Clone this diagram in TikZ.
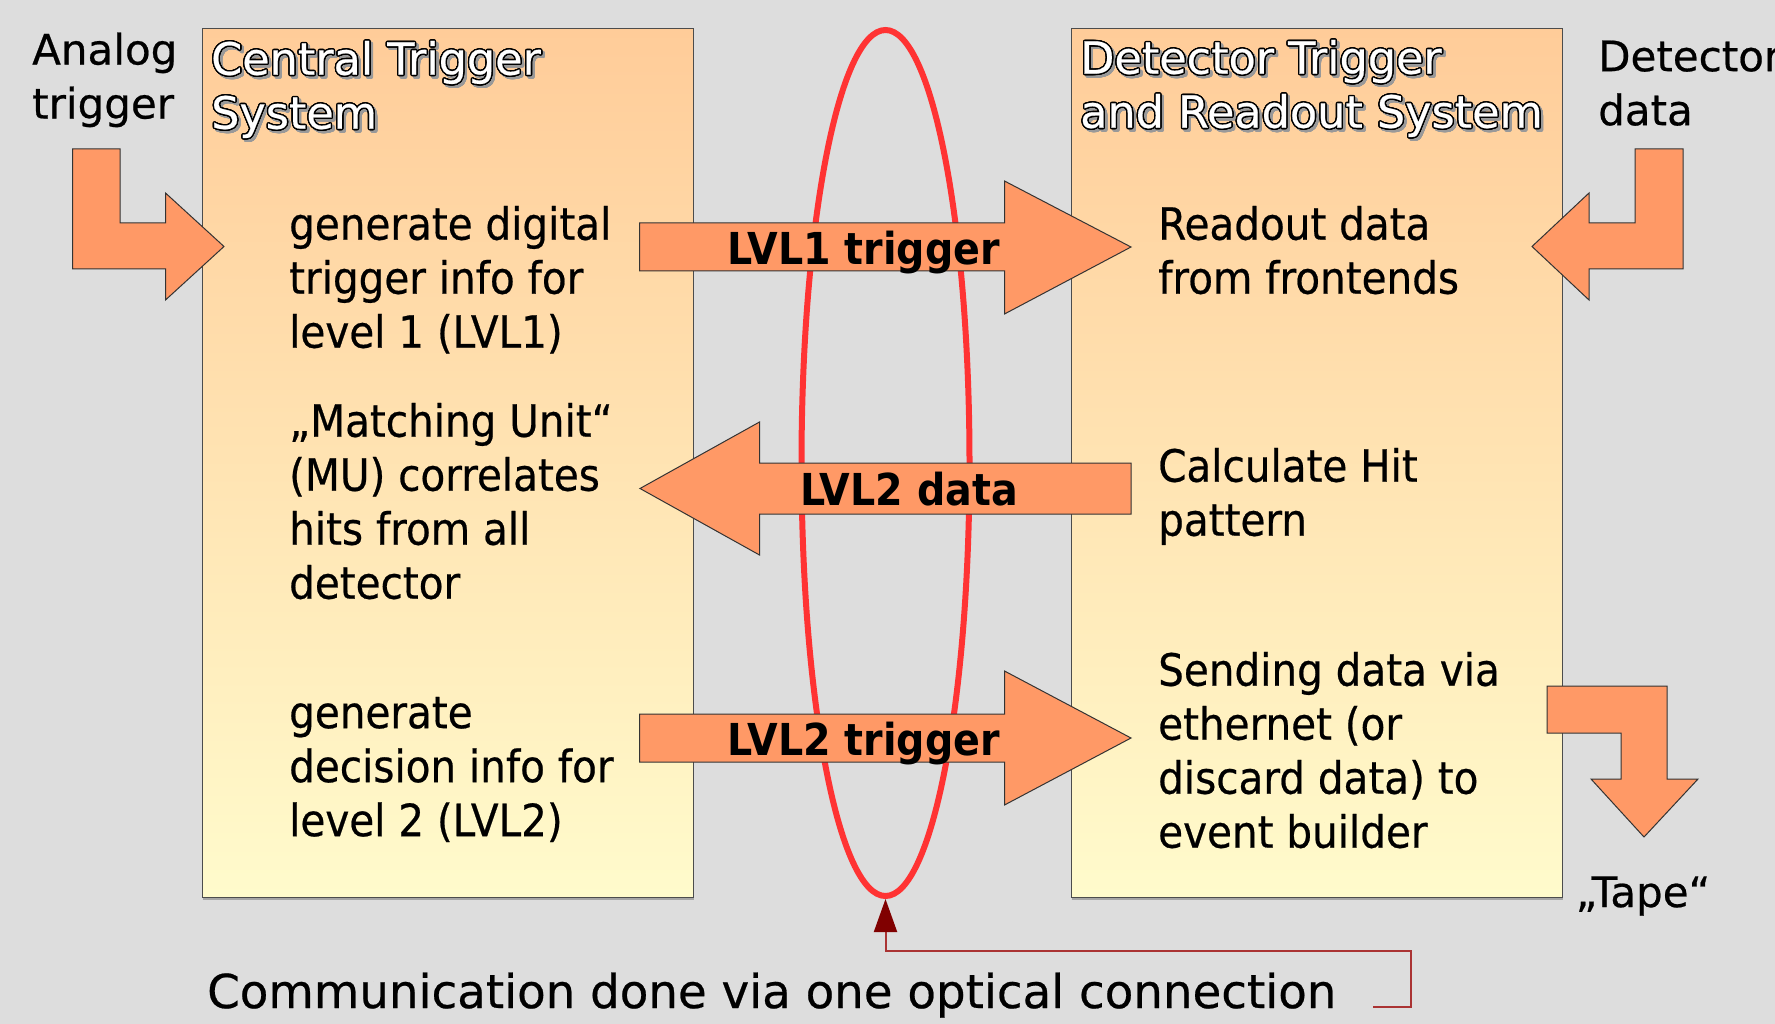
\documentclass[tikz,border=0pt]{standalone}
\usepackage{fontspec}
\setmainfont{DejaVu Sans}[FakeBold=0.5]
\newfontfamily\narrowfont{DejaVu Sans}[FakeStretch=0.91,FakeBold=0.5]
\newfontfamily\labelfont{DejaVu Sans Bold}[FakeStretch=0.9]
\usepackage{contour}
\contourlength{1.4pt}
\usetikzlibrary{arrows.meta}
\usetikzlibrary{shapes.geometric}
\usetikzlibrary{shadows}

\definecolor{bggray}{RGB}{221,221,221}
\definecolor{boxtop}{RGB}{255,204,153}
\definecolor{boxbottom}{RGB}{255,251,204}
\definecolor{arroworange}{RGB}{255,153,102}
\definecolor{linkred}{RGB}{255,51,51}
\definecolor{connred}{RGB}{170,51,51}
\definecolor{tipred}{RGB}{128,0,0}

\begin{document}
\begin{tikzpicture}[x=1pt,y=-1pt,
  sysbox/.style={draw=black!70, line width=1.2pt, top color=boxtop, bottom color=boxbottom,
    minimum width=491pt, minimum height=869pt, anchor=north west, inner sep=0pt,
    drop shadow={shadow xshift=1pt, shadow yshift=-2pt, opacity=0.6}},
  blockarrow/.style={fill=arroworange, draw=black!80, line width=1pt},
  bodytext/.style={anchor=north west, align=left, inner sep=0pt,
    font=\narrowfont\fontsize{44.5}{54}\selectfont, execute at begin node=\strut},
  titletext/.style={anchor=north west, align=left, inner sep=0pt,
    font=\fontsize{44.5}{54}\selectfont, execute at begin node=\strut},
  sidelabel/.style={anchor=north west, align=left, inner sep=0pt,
    font=\fontsize{42}{54}\selectfont, execute at begin node=\strut},
  arrowlabel/.style={anchor=base, inner sep=0pt, font=\labelfont\fontsize{44}{53}\selectfont},
  optline/.style={draw=connred, line width=2pt, -{Triangle[length=33pt,width=23pt,color=tipred]}}]
% background and page size
\fill[bggray] (0,0) rectangle (1775,1024);
\useasboundingbox (0,0) rectangle (1775,1024);
\coordinate (tail) at (1373,1007);
\coordinate (bend) at (1411,951);
% draws the two system boxes
\node[sysbox] (ctsbox) at (201.5,28) {};
\node[sysbox] (dtrsbox) at (1070.5,28) {};
% draws the optical link
\node[ellipse, draw=linkred, line width=6pt, minimum width=168pt, minimum height=866pt, inner sep=0pt] (link) at (885.5,463) {};
% draws block arrows
\draw[blockarrow] (72.5,149) -- (120,149) -- (120,223) -- (165.5,223) -- (165.5,193) -- (224,246.5) -- (165.5,300) -- (165.5,269) -- (72.5,269) -- cycle;
\draw[blockarrow] (1683,149) -- (1635,149) -- (1635,223) -- (1589,223) -- (1589,193) -- (1532,246.5) -- (1589,300) -- (1589,269) -- (1683,269) -- cycle;
\draw[blockarrow] (1547,686) -- (1667,686) -- (1667,779) -- (1698,779) -- (1644,837) -- (1591,779) -- (1621,779) -- (1621,733) -- (1547,733) -- cycle;
\draw[blockarrow] (639.5,223) -- (1004.5,223) -- (1004.5,181) -- (1131,247) -- (1004.5,314) -- (1004.5,271) -- (639.5,271) -- cycle;
\draw[blockarrow] (640,488.5) -- (759.5,422) -- (759.5,463) -- (1131,463) -- (1131,514) -- (759.5,514) -- (759.5,555) -- cycle;
\draw[blockarrow] (639.5,714) -- (1004.5,714) -- (1004.5,671) -- (1131,738) -- (1004.5,805) -- (1004.5,762) -- (639.5,762) -- cycle;
% labels arrows
\node[arrowlabel] (lvla) at (864,265) {LVL1 trigger};
\node[arrowlabel] (lvlb) at (909,505) {LVL2 data};
\node[arrowlabel] (lvlc) at (864,755) {LVL2 trigger};
% box titles with shadow
\node[titletext, text=black!40, xshift=2.5pt, yshift=-2.5pt] (ctsshadow) at (211,40.7) {\contour{black!40}{Central Trigger}\\\contour{black!40}{System}};
\node[titletext, text=white] (ctstitle) at (211,40.7) {\contour{black}{Central Trigger}\\\contour{black}{System}};
\node[titletext, text=black!40, xshift=2.5pt, yshift=-2.5pt] (dtrsshadow) at (1080,39.7) {\contour{black!40}{Detector Trigger}\\\contour{black!40}{and Readout System}};
\node[titletext, text=white] (dtrstitle) at (1080,39.7) {\contour{black}{Detector Trigger}\\\contour{black}{and Readout System}};
% central trigger tasks
\node[bodytext] (ctsa) at (289,205.7) {generate digital\\trigger info for\\level 1 (LVL1)};
\node[bodytext] (ctsb) at (289,402.7) {„Matching Unit“\\(MU) correlates\\hits from all\\detector};
\node[bodytext] (ctsc) at (289,696.7) {generate\\decision info for\\level 2 (LVL2)};
% readout tasks
\node[bodytext] (dtrsa) at (1158,205.7) {Readout data\\from frontends};
\node[bodytext] (dtrsb) at (1158,447.7) {Calculate Hit\\pattern};
\node[bodytext] (dtrsc) at (1158,651.7) {Sending data via\\ethernet (or\\discard data) to\\event builder};
% inputs and output
\node[sidelabel] (analog) at (32,32.4) {Analog\\trigger};
\node[sidelabel] (detdata) at (1598,40.4) {Detector\\data};
\node[anchor=base, inner sep=0pt, font=\fontsize{42}{54}\selectfont] (tape) at (1643,907) {„Tape“};
% note on the link
\node[anchor=base west, inner sep=0pt, font=\fontsize{46.7}{56}\selectfont] (commnote) at (207,1008) {Communication done via one optical connection};
\draw[optline] (tail) -| (bend) -| (link.south);
\end{tikzpicture}
\end{document}
